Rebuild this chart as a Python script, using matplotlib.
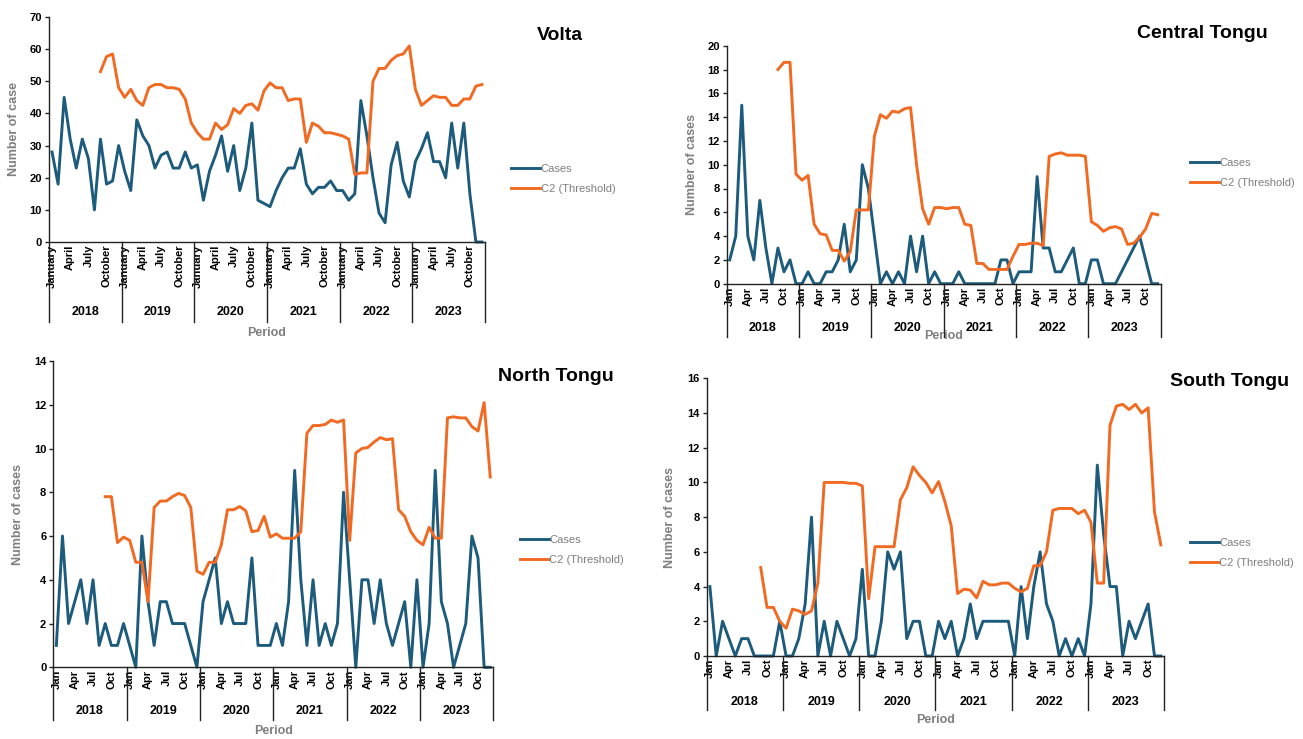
import numpy as np
import matplotlib.pyplot as plt
from matplotlib.transforms import blended_transform_factory

plt.rcParams['font.family'] = ['Liberation Sans', 'DejaVu Sans']

nan = np.nan
years = ['2018', '2019', '2020', '2021', '2022', '2023']
month_long = ['January', 'April', 'July', 'October']
month_short = ['Jan', 'Apr', 'Jul', 'Oct']

# Volta
volta_cases = [28, 18, 45, 32, 23, 32, 26, 10, 32, 18, 19, 30,
               22, 16, 38, 33, 30, 23, 27, 28, 23, 23, 28, 23,
               24, 13, 22, 27, 33, 22, 30, 16, 23, 37, 13, 12,
               11, 16, 20, 23, 23, 29, 18, 15, 17, 17, 19, 16,
               16, 13, 15, 44, 33, 20, 9, 6, 24, 31, 19, 14,
               25, 29, 34, 25, 25, 20, 37, 23, 37, 15, 0, 0]
volta_c2 = [nan, nan, nan, nan, nan, nan, nan, nan, 53, 57.7, 58.5, 48,
            45, 47.5, 44, 42.5, 48, 49, 49, 48, 48, 47.5, 44.5, 37,
            34, 32, 32, 37, 35, 36.5, 41.5, 40, 42.5, 43, 41, 47,
            49.5, 48, 48, 44, 44.5, 44.5, 31, 37, 36, 34, 34, 33.5,
            33, 32, 21, 21.5, 21.5, 50, 54, 54, 56.5, 58, 58.5, 61,
            47.5, 42.5, 44, 45.5, 45, 45, 42.5, 42.5, 44.5, 44.5, 48.5, 49]

# Central Tongu
ct_cases = [2, 4, 15, 4, 2, 7, 3, 0, 3, 1, 2, 0,
            0, 1, 0, 0, 1, 1, 2, 5, 1, 2, 10, 8,
            4, 0, 1, 0, 1, 0, 4, 1, 4, 0, 1, 0,
            0, 0, 1, 0, 0, 0, 0, 0, 0, 2, 2, 0,
            1, 1, 1, 9, 3, 3, 1, 1, 2, 3, 0, 0,
            2, 2, 0, 0, 0, 1, 2, 3, 4, 2, 0, 0]
ct_c2 = [nan, nan, nan, nan, nan, nan, nan, nan, 18, 18.6, 18.6, 9.2,
         8.7, 9.1, 5, 4.2, 4.1, 2.8, 2.8, 1.9, 2.7, 6.2, 6.2, 6.2,
         12.4, 14.2, 13.9, 14.5, 14.4, 14.7, 14.8, 10, 6.3, 5, 6.4, 6.4,
         6.3, 6.4, 6.4, 5, 4.9, 1.7, 1.7, 1.2, 1.2, 1.2, 1.2, 2.3,
         3.3, 3.3, 3.4, 3.4, 3.2, 10.7, 10.9, 11.0, 10.8, 10.8, 10.8, 10.7,
         5.2, 4.9, 4.4, 4.7, 4.8, 4.6, 3.3, 3.4, 3.9, 4.6, 5.9, 5.8]

# North Tongu
nt_cases = [1, 6, 2, 3, 4, 2, 4, 1, 2, 1, 1, 2,
            1, 0, 6, 3, 1, 3, 3, 2, 2, 2, 1, 0,
            3, 4, 5, 2, 3, 2, 2, 2, 5, 1, 1, 1,
            2, 1, 3, 9, 4, 1, 4, 1, 2, 1, 2, 8,
            4, 0, 4, 4, 2, 4, 2, 1, 2, 3, 0, 4,
            0, 2, 9, 3, 2, 0, 1, 2, 6, 5, 0, 0]
nt_c2 = [nan, nan, nan, nan, nan, nan, nan, nan, 7.8, 7.8, 5.7, 5.95,
         5.8, 4.8, 4.8, 3.0, 7.3, 7.6, 7.6, 7.8, 7.95, 7.85, 7.3, 4.4,
         4.25, 4.8, 4.8, 5.6, 7.2, 7.2, 7.35, 7.15, 6.2, 6.25, 6.9, 5.95,
         6.1, 5.9, 5.9, 5.9, 6.2, 10.7, 11.05, 11.05, 11.1, 11.3, 11.2, 11.3,
         5.8, 9.8, 10.0, 10.05, 10.3, 10.5, 10.4, 10.45, 7.2, 6.9, 6.2, 5.8,
         5.6, 6.4, 5.9, 5.9, 11.4, 11.45, 11.4, 11.4, 11.0, 10.8, 12.1, 8.7]

# South Tongu
st_cases = [4, 0, 2, 1, 0, 1, 1, 0, 0, 0, 0, 2,
            0, 0, 1, 3, 8, 0, 2, 0, 2, 1, 0, 1,
            5, 0, 0, 2, 6, 5, 6, 1, 2, 2, 0, 0,
            2, 1, 2, 0, 1, 3, 1, 2, 2, 2, 2, 2,
            0, 4, 1, 4, 6, 3, 2, 0, 1, 0, 1, 0,
            3, 11, 7, 4, 4, 0, 2, 1, 2, 3, 0, 0]
st_c2 = [nan, nan, nan, nan, nan, nan, nan, nan, 5.1, 2.8, 2.8, 2.0,
         1.6, 2.7, 2.6, 2.4, 2.6, 4.2, 10.0, 10.0, 10.0, 10.0, 9.95, 9.95,
         9.8, 3.3, 6.3, 6.3, 6.3, 6.3, 9.0, 9.7, 10.9, 10.4, 10.0, 9.4,
         10.05, 8.9, 7.5, 3.6, 3.85, 3.8, 3.35, 4.3, 4.1, 4.1, 4.2, 4.2,
         3.9, 3.7, 3.9, 5.2, 5.2, 6.0, 8.4, 8.5, 8.5, 8.5, 8.2, 8.4,
         7.7, 4.2, 4.2, 13.3, 14.4, 14.5, 14.2, 14.5, 14.0, 14.3, 8.3, 6.4]

BLUE = '#1d5b7c'
ORANGE = '#f26a21'
GREY = '#7f7f7f'
W, H = 1303, 739

fig = plt.figure(figsize=(W / 100, H / 100), dpi=100)


def panel(box, cases, c2, ymax, title, title_xy, leg_xy, ylabel, months,
          yr_off, line_off, per_off):
    x0, y_top, x1, y_bot = box
    ax = fig.add_axes([x0 / W, 1 - y_bot / H, (x1 - x0) / W, (y_bot - y_top) / H])
    hpx = y_bot - y_top
    x = np.arange(len(cases))
    ax.plot(x, cases, color=BLUE, lw=2.1, label='Cases', clip_on=False)
    ax.plot(x, c2, color=ORANGE, lw=2.1, label='C2 (Threshold)', clip_on=False)
    ax.set_xlim(-0.5, len(cases) - 0.5)
    ax.set_ylim(0, ymax)
    ax.set_yticks(np.arange(0, ymax + 1, 10 if ymax > 30 else 2))
    for s in ['top', 'right']:
        ax.spines[s].set_visible(False)
    for s in ['left', 'bottom']:
        ax.spines[s].set_color('#222222')
        ax.spines[s].set_linewidth(1)
    ax.tick_params(axis='y', length=3, width=1, color='#222222', labelsize=8, pad=2)
    for t in ax.get_yticklabels():
        t.set_fontweight('bold')

    pos = [12 * k + 3 * m for k in range(len(years)) for m in range(4)]
    ax.set_xticks(pos)
    ax.set_xticklabels(months * len(years), rotation=90, fontsize=8,
                       fontweight='bold', va='top', ha='center')
    ax.tick_params(axis='x', length=0, pad=2)

    trans = blended_transform_factory(ax.transData, ax.transAxes)
    for k in range(len(years) + 1):
        ax.plot([12 * k - 0.5] * 2, [0, -line_off / hpx], transform=trans,
                color='#222222', lw=1, clip_on=False)
    for k, yr in enumerate(years):
        ax.annotate(yr, xy=(12 * k + 5.5, 0), xycoords=trans,
                    xytext=(0, -yr_off), textcoords='offset pixels',
                    ha='center', va='center', fontsize=9, fontweight='bold')
    ax.annotate('Period', xy=(0.5, 0), xycoords='axes fraction',
                xytext=(0, -per_off), textcoords='offset pixels',
                ha='center', va='center', fontsize=9, fontweight='bold', color=GREY)

    ax.set_ylabel(ylabel, fontsize=9, fontweight='bold', color=GREY)
    ax.yaxis.set_label_coords(-0.067, 0.5)
    ax.text(title_xy[0], title_xy[1], title, transform=ax.transAxes,
            ha='center', va='center', fontsize=14, fontweight='bold')
    ax.legend(loc='center left', bbox_to_anchor=leg_xy, frameon=False,
              fontsize=8, labelcolor=GREY, handlelength=2.6, handletextpad=0.05,
              labelspacing=0.9, borderaxespad=0)
    return ax


panel((49, 17, 485, 242), volta_cases, volta_c2, 70, 'Volta',
      (1.172, 0.92), (1.05, 0.28), 'Number of case', month_long, 70, 80, 91)
panel((726.7, 45.7, 1160.7, 283.7), ct_cases, ct_c2, 20, 'Central Tongu',
      (1.095, 1.05), (1.058, 0.465), 'Number of cases', month_short, 44, 53, 52)
panel((53.3, 361, 493.3, 667.3), nt_cases, nt_c2, 14, 'North Tongu',
      (1.142, 0.951), (1.05, 0.383), 'Number of cases', month_short, 44, 53, 64)
panel((706.7, 378.3, 1164, 656), st_cases, st_c2, 16, 'South Tongu',
      (1.144, 0.99), (1.047, 0.371), 'Number of cases', month_short, 46, 54, 64)

fig.savefig('out.png', dpi=100)
